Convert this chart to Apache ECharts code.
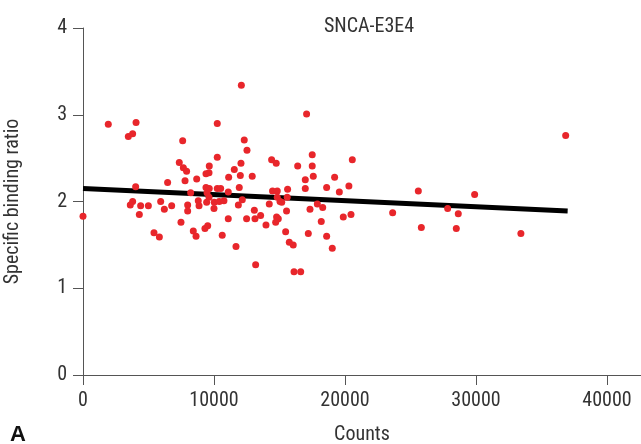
<!DOCTYPE html>
<html lang="en">
<head>
    <meta charset="UTF-8">
    <title>SNCA-E3E4</title>
    <script src="https://cdn.jsdelivr.net/npm/echarts@6/dist/echarts.min.js"></script>
    <style>
        body { margin: 0; background: #fff; }
    </style>
</head>
<body>
    <div id="main" style="width: 641px;height:444px;"></div>
    <script type="text/javascript">
        // counts (x) and specific binding ratio (y)
        var counts = [0, 1930, 3460, 3790, 4050, 4020, 3790, 3610, 4400, 4990,
            4300, 5930, 6210, 6770, 5420, 5830, 6460, 7350, 7660, 7910,
            7610, 7790, 8680, 8220, 7480, 7990, 7990, 8800, 8860, 8420,
            8630, 9310, 9520, 9390, 9640, 9620, 9390, 9640, 9470, 9620,
            9440, 10020, 10000, 10250, 10250, 10250, 10510, 10400, 10760, 10630,
            11090, 11120, 11090, 11550, 11680, 11860, 11930, 12010, 12060, 12090,
            12160, 12310, 12490, 12520, 12920, 13080, 13130, 13180, 13560, 13970,
            14220, 14400, 14750, 14470, 14830, 14830, 15040, 15170, 14780, 14910,
            14710, 15620, 15590, 15540, 15470, 15750, 16050, 16110, 16620, 16390,
            16970, 16970, 17070, 17500, 17500, 17580, 17330, 17890, 18300, 17200,
            18190, 18600, 18600, 19030, 19210, 19570, 19870, 20460, 20300, 20560,
            23640, 25600, 25830, 27840, 28650, 28500, 29900, 33430, 36850];
        var ratios = [1.83, 2.89, 2.75, 2.78, 2.91, 2.17, 2.00, 1.96, 1.95, 1.95,
            1.85, 2.00, 1.91, 1.95, 1.64, 1.59, 2.22, 2.45, 2.39, 2.35,
            2.70, 2.24, 2.26, 2.10, 1.76, 1.96, 1.89, 2.01, 1.95, 1.66,
            1.60, 1.69, 1.72, 2.32, 2.41, 2.33, 2.16, 2.15, 2.10, 2.05,
            1.99, 1.99, 1.92, 2.15, 2.90, 2.51, 2.15, 2.00, 2.01, 1.61,
            2.11, 2.28, 1.80, 2.37, 1.48, 1.96, 2.16, 2.30, 2.44, 3.34,
            2.02, 2.71, 1.80, 2.59, 2.29, 1.90, 1.80, 1.27, 1.84, 1.73,
            1.97, 2.48, 2.44, 2.12, 2.12, 2.05, 2.00, 1.99, 1.82, 1.80,
            1.76, 2.14, 2.05, 1.89, 1.65, 1.53, 1.50, 1.19, 1.19, 2.41,
            2.25, 2.15, 3.01, 2.54, 2.41, 2.29, 1.91, 1.97, 1.93, 1.63,
            1.77, 2.16, 1.60, 1.46, 2.28, 2.11, 1.82, 1.85, 2.18, 2.48,
            1.87, 2.12, 1.70, 1.92, 1.86, 1.69, 2.08, 1.63, 2.76];
        // regression line end points
        var fitX = [0, 37000];
        var fitY = [2.15, 1.89];
        var xTicks = [0, 10000, 20000, 30000, 40000];

        var points = counts.map(function (c, i) { return [c, ratios[i]]; });
        var fit = fitX.map(function (x, i) { return [x, fitY[i]]; });

        var font = '"Liberation Sans Narrow", "Roboto Condensed", "Liberation Sans", sans-serif';
        var myChart = echarts.init(document.getElementById('main'));

        var option = {
            animation: false,
            title: {
                text: 'SNCA-E3E4',
                left: 364,
                textAlign: 'center',
                top: 12,
                textStyle: { fontFamily: font, fontWeight: 'normal', fontSize: 20, color: '#333' }
            },
            grid: { left: 83, top: 28, right: 0, bottom: 69, outerBoundsMode: 'none', containLabel: false },
            xAxis: {
                type: 'value',
                min: 0,
                max: 42600,
                name: 'Counts',
                nameLocation: 'middle',
                nameGap: 50,
                nameTextStyle: { fontFamily: font, fontSize: 20, color: '#333' },
                axisLine: { lineStyle: { color: '#555', width: 1 } },
                axisTick: { length: 10, lineStyle: { color: '#555' }, customValues: xTicks },
                axisLabel: {
                    margin: 16, fontFamily: font, fontSize: 20, color: '#333', customValues: xTicks,
                    formatter: function (v) { return String(v); }
                },
                splitLine: { show: false }
            },
            yAxis: {
                type: 'value',
                min: 0,
                max: 4,
                interval: 1,
                name: 'Specific binding ratio',
                nameLocation: 'middle',
                nameGap: 60,
                nameTextStyle: { fontFamily: font, fontSize: 20, color: '#333' },
                axisLine: { show: true, lineStyle: { color: '#555', width: 1 } },
                axisTick: { show: true, length: 10, lineStyle: { color: '#555' } },
                axisLabel: { margin: 16, fontFamily: font, fontSize: 20, color: '#333' },
                splitLine: { show: false }
            },
            graphic: [{
                type: 'text',
                left: 10,
                top: 424,
                style: { text: 'A', font: 'bold 22px "Liberation Sans", sans-serif', fill: '#111' }
            }],
            series: [
                {
                    type: 'line',
                    data: fit,
                    symbol: 'none',
                    lineStyle: { color: '#000', width: 5 },
                    z: 1
                },
                {
                    type: 'scatter',
                    data: points,
                    symbolSize: 7,
                    itemStyle: { color: '#e8262b', opacity: 1 },
                    z: 2
                }
            ]
        };

        myChart.setOption(option);
    </script>
</body>
</html>
